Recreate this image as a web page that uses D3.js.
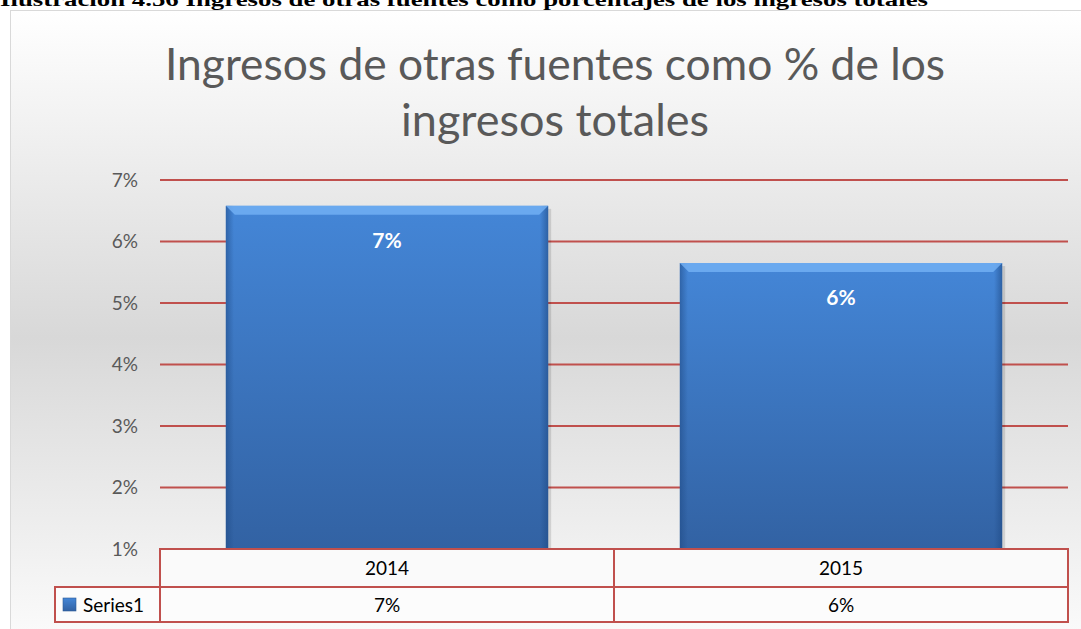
<!DOCTYPE html>
<html>
<head>
<meta charset="utf-8">
<script src="https://cdn.jsdelivr.net/npm/d3@7"></script>
<style>
  body { margin: 0; background: #fff; }
  svg { display: block; }
</style>
</head>
<body>
<div id="app"></div>
<script>
const caption = "Ilustración 4.56 Ingresos de otras fuentes como porcentajes de los ingresos totales"
const titleLines = ["Ingresos de otras fuentes como % de los", "ingresos totales"]
const years = ["2014", "2015"]
const values = [6.58, 5.65]
const yTicks = [1, 2, 3, 4, 5, 6, 7]
const seriesName = "Series1"

var w = 1081
var h = 629
const plotLeft = 160, plotRight = 1068, plotTop = 180, plotBottom = 549
const red = "#c0504d"

const svg = d3.select("#app")
  .append("svg")
  .attr("width", w)
  .attr("height", h)

const defs = svg.append("defs")

const bg = defs.append("linearGradient")
  .attr("id", "bg").attr("x1", 0).attr("x2", 0).attr("y1", 0).attr("y2", 1)
bg.append("stop").attr("offset", 0).attr("stop-color", "#ffffff")
bg.append("stop").attr("offset", 0.52).attr("stop-color", "#d8d8d8")
bg.append("stop").attr("offset", 1).attr("stop-color", "#fbfbfb")

const barGrad = defs.append("linearGradient")
  .attr("id", "barGrad").attr("x1", 0).attr("x2", 0).attr("y1", 0).attr("y2", 1)
barGrad.append("stop").attr("offset", 0).attr("stop-color", "#4486d7")
barGrad.append("stop").attr("offset", 1).attr("stop-color", "#3262a3")

const sideGrad = defs.append("linearGradient")
  .attr("id", "sideGrad").attr("x1", 0).attr("x2", 1).attr("y1", 0).attr("y2", 0)
sideGrad.append("stop").attr("offset", 0).attr("stop-color", "#1f4a85").attr("stop-opacity", 0.55)
sideGrad.append("stop").attr("offset", 0.025).attr("stop-color", "#1f4a85").attr("stop-opacity", 0)
sideGrad.append("stop").attr("offset", 0.975).attr("stop-color", "#1f4a85").attr("stop-opacity", 0)
sideGrad.append("stop").attr("offset", 1).attr("stop-color", "#1f4a85").attr("stop-opacity", 0.6)

// caption above the chart (cut off at the top)
svg.append("text")
  .attr("x", 0).attr("y", 6)
  .attr("textLength", 928)
  .attr("lengthAdjust", "spacingAndGlyphs")
  .style("font-family", "'Liberation Serif', 'Times New Roman', serif")
  .style("font-weight", "bold")
  .style("font-size", "19px")
  .text(caption)

// chart area
svg.append("rect")
  .attr("x", 10.5).attr("y", 10.5)
  .attr("width", w + 10).attr("height", h)
  .attr("fill", "url(#bg)")
  .attr("stroke", "#d9d9d9")

// title
svg.selectAll(".title")
  .data(titleLines)
  .enter().append("text")
  .attr("class", "title")
  .attr("x", 555)
  .attr("y", (d, i) => 80 + i * 56)
  .attr("text-anchor", "middle")
  .attr("textLength", (d, i) => i === 0 ? 780 : 308)
  .attr("lengthAdjust", "spacingAndGlyphs")
  .style("font-family", "Lato, 'Open Sans', sans-serif")
  .style("font-size", "44px")
  .style("fill", "#595959")
  .text(d => d)

const x = d3.scaleBand()
  .domain(years)
  .range([plotLeft, plotRight])
  .paddingInner(0.29)
  .paddingOuter(0.145)

const y = d3.scaleLinear()
  .domain([1, 7])
  .range([plotBottom, plotTop])

// gridlines
svg.append("g")
  .selectAll("line")
  .data(yTicks.filter(t => t > 1))
  .enter().append("line")
  .attr("x1", plotLeft).attr("x2", plotRight)
  .attr("y1", d => y(d)).attr("y2", d => y(d))
  .attr("stroke", red)
  .attr("stroke-width", 2)

// y axis labels
const yAxis = d3.axisLeft(y)
  .tickValues(yTicks)
  .tickFormat(d => d + "%")
  .tickSize(0)
  .tickPadding(22)

const yg = svg.append("g")
  .attr("transform", "translate(" + plotLeft + ",0)")
  .call(yAxis)
yg.select(".domain").remove()
yg.selectAll("text")
  .style("font-family", "Lato, 'Open Sans', sans-serif")
  .style("font-size", "19px")
  .style("fill", "#595959")

// bars
const bars = svg.append("g").selectAll("g")
  .data(years.map((d, i) => ({ year: d, value: values[i] })))
  .enter().append("g")

bars.append("rect")
  .attr("x", d => x(d.year) + 3)
  .attr("y", d => y(d.value) + 3)
  .attr("width", x.bandwidth())
  .attr("height", d => y(1) - y(d.value))
  .attr("fill", "#000")
  .attr("opacity", 0.12)

bars.append("rect")
  .attr("x", d => x(d.year))
  .attr("y", d => y(d.value))
  .attr("width", x.bandwidth())
  .attr("height", d => y(1) - y(d.value))
  .attr("fill", "url(#barGrad)")

bars.append("rect")
  .attr("x", d => x(d.year))
  .attr("y", d => y(d.value))
  .attr("width", x.bandwidth())
  .attr("height", d => y(1) - y(d.value))
  .attr("fill", "url(#sideGrad)")

// top bevel
bars.append("path")
  .attr("d", d => {
    const x0 = x(d.year), x1 = x0 + x.bandwidth(), y0 = y(d.value)
    return "M" + x0 + "," + y0 + "L" + x1 + "," + y0 + "L" + (x1 - 9) + "," + (y0 + 9) +
      "L" + (x0 + 9) + "," + (y0 + 9) + "Z"
  })
  .attr("fill", "#74b2f5")
  .attr("opacity", 0.8)

// data labels
bars.append("text")
  .attr("x", d => x(d.year) + x.bandwidth() / 2)
  .attr("y", d => y(d.value) + 42)
  .attr("text-anchor", "middle")
  .style("font-family", "Lato, 'Open Sans', sans-serif")
  .style("font-weight", "bold")
  .style("font-size", "21px")
  .style("fill", "#ffffff")
  .text(d => d3.format(".0%")(d.value / 100))

// data table
const rowH1 = 38, rowH2 = 35
const step = x.step()
const table = svg.append("g")

years.forEach((yr, i) => {
  const cx = plotLeft + i * step
  table.append("rect")
    .attr("x", cx).attr("y", plotBottom)
    .attr("width", step).attr("height", rowH1)
    .attr("fill", "#fafafa").attr("stroke", red).attr("stroke-width", 2)
  table.append("rect")
    .attr("x", cx).attr("y", plotBottom + rowH1)
    .attr("width", step).attr("height", rowH2)
    .attr("fill", "#fcfcfc").attr("stroke", red).attr("stroke-width", 2)
  table.append("text")
    .attr("x", cx + step / 2).attr("y", plotBottom + rowH1 / 2 + 7)
    .attr("text-anchor", "middle")
    .style("font-family", "Lato, 'Open Sans', sans-serif")
    .style("font-size", "19px")
    .text(yr)
  table.append("text")
    .attr("x", cx + step / 2).attr("y", plotBottom + rowH1 + rowH2 / 2 + 7)
    .attr("text-anchor", "middle")
    .style("font-family", "Lato, 'Open Sans', sans-serif")
    .style("font-size", "19px")
    .text(d3.format(".0%")(values[i] / 100))
})

table.append("rect")
  .attr("x", 55).attr("y", plotBottom + rowH1)
  .attr("width", plotLeft - 55).attr("height", rowH2)
  .attr("fill", "#fcfcfc").attr("stroke", red).attr("stroke-width", 2)

table.append("rect")
  .attr("x", 63).attr("y", plotBottom + rowH1 + 11)
  .attr("width", 13).attr("height", 13)
  .attr("fill", "url(#barGrad)")
  .attr("stroke", "#2d5a96")
  .attr("stroke-width", 0.6)

table.append("text")
  .attr("x", 83).attr("y", plotBottom + rowH1 + rowH2 / 2 + 7)
  .style("font-family", "Lato, 'Open Sans', sans-serif")
  .style("font-size", "19px")
  .text(seriesName)
</script>
</body>
</html>
